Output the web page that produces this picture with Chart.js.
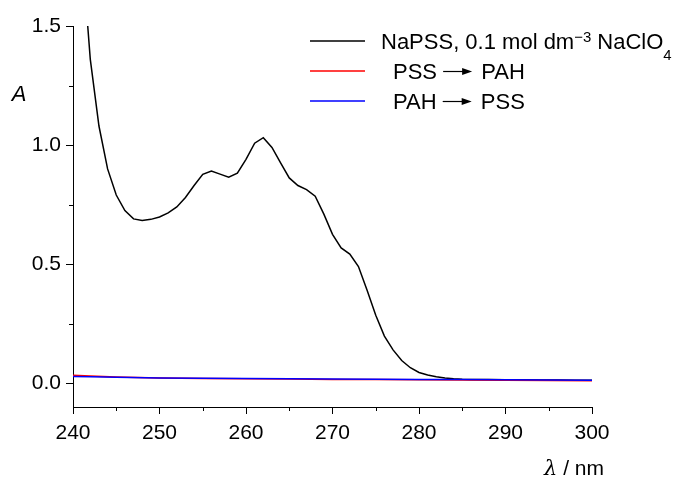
<!DOCTYPE html>
<html>
<head>
<meta charset="utf-8">
<script src="https://cdn.jsdelivr.net/npm/chart.js@4.4.1/dist/chart.umd.min.js"></script>
<style>
  html, body { margin: 0; padding: 0; background: #fff; }
  #wrap { width: 685px; height: 480px; position: relative; }
</style>
</head>
<body>
<div id="wrap"><canvas id="c"></canvas></div>
<script>
// ---- data ----
const wavelengthNaPSS = [241,242,243,244,245,246,247,248,249,250,251,252,253,254,255,256,257,258,259,260,
  261,262,263,264,265,266,267,268,269,270,271,272,273,274,275,276,277,278,279,280,
  281,282,283,284,285,286,288,290,292,294,296,298,300];
const absNaPSS = [1.83,1.36,1.08,0.90,0.79,0.725,0.69,0.683,0.688,0.698,0.715,0.74,0.78,0.83,0.877,0.891,0.878,0.865,0.882,0.94,
  1.008,1.031,0.99,0.925,0.862,0.83,0.813,0.785,0.71,0.625,0.568,0.542,0.49,0.39,0.285,0.198,0.14,0.095,0.065,0.045,
  0.034,0.027,0.022,0.019,0.017,0.016,0.015,0.014,0.014,0.013,0.013,0.012,0.012];
const wavelengthFilm = [240,242,245,250,255,260,265,270,275,280,285,290,295,300];
const absPSSPAH = [0.033,0.030,0.026,0.022,0.020,0.019,0.018,0.016,0.015,0.014,0.013,0.012,0.011,0.010];
const absPAHPSS = [0.028,0.027,0.025,0.022,0.021,0.020,0.019,0.018,0.017,0.016,0.015,0.014,0.013,0.012];
const xTicks = [240,250,260,270,280,290,300];
const xMinorTicks = [245,255,265,275,285,295];
const yTicks = [0.0,0.5,1.0,1.5];
const yMinorTicks = [0.25,0.75,1.25];
const seriesLabels = ['NaPSS, 0.1 mol dm^{\u22123} NaClO_{4}', 'PSS \u2192 PAH', 'PAH \u2192 PSS'];
const seriesColors = ['#000000', '#ff0000', '#0000ff'];

const FONT = "'Liberation Sans', Arial, sans-serif";
const toPts = (xs, ys) => xs.map((x, i) => ({x: x, y: ys[i]}));

// rich text: ^{..} superscript, _{..} subscript, \u2192 drawn as long arrow
function drawRich(ctx, text, x, y, size) {
  const re = /(\^\{[^}]*\}|_\{[^}]*\}|\u2192)/;
  const parts = text.split(re).filter(s => s.length);
  let cx = x;
  ctx.textBaseline = 'alphabetic';
  ctx.textAlign = 'left';
  for (const p of parts) {
    if (p === '\u2192') {
      const ay = Math.round(y - size * 0.36) + 0.5;
      const len = 29;
      ctx.save();
      ctx.strokeStyle = '#000'; ctx.lineWidth = 1.2;
      ctx.beginPath(); ctx.moveTo(cx, ay); ctx.lineTo(cx + len - 8, ay); ctx.stroke();
      ctx.beginPath(); ctx.moveTo(cx + len, ay); ctx.lineTo(cx + len - 10, ay - 3.5); ctx.lineTo(cx + len - 10, ay + 3.5); ctx.closePath();
      ctx.fillStyle = '#000'; ctx.fill();
      ctx.restore();
      cx += len + 3;
      continue;
    }
    let s = p, fs = size, dy = 0;
    if (p.startsWith('^{')) { s = p.slice(2, -1); fs = size * 0.68; dy = -size * 0.3; }
    else if (p.startsWith('_{')) { s = p.slice(2, -1); fs = size * 0.68; dy = size * 0.52; }
    ctx.font = fs + 'px ' + FONT;
    ctx.fillText(s, cx, y + dy);
    cx += ctx.measureText(s).width;
  }
}

const extras = {
  id: 'extras',
  afterDraw(chart) {
    const ctx = chart.ctx;
    const xs = chart.scales.x, ys = chart.scales.y;
    const ca = chart.chartArea;
    ctx.save();
    ctx.strokeStyle = '#000';
    ctx.lineWidth = 1;
    // minor ticks
    ctx.beginPath();
    xMinorTicks.forEach(v => {
      const px = Math.round(xs.getPixelForValue(v)) + 0.5;
      ctx.moveTo(px, ca.bottom); ctx.lineTo(px, ca.bottom + 4);
    });
    yMinorTicks.forEach(v => {
      const py = Math.round(ys.getPixelForValue(v)) + 0.5;
      ctx.moveTo(ca.left, py); ctx.lineTo(ca.left - 4, py);
    });
    ctx.stroke();
    // axis titles
    ctx.fillStyle = '#000';
    ctx.font = 'italic 22px ' + FONT;
    ctx.textAlign = 'center';
    ctx.textBaseline = 'middle';
    ctx.fillText('A', 19, 95);
    ctx.textAlign = 'right';
    ctx.textBaseline = 'alphabetic';
    ctx.font = '21px ' + FONT;
    const rest = ' / nm';
    const rw = ctx.measureText(rest).width;
    ctx.fillText(rest, 604, 475);
    ctx.font = "italic 21px 'DejaVu Serif', serif";
    ctx.fillText('\u03bb', 604 - rw, 475);
    // legend
    const rows = [41, 71, 101];
    const textX = [381, 393, 393];
    chart.data.datasets.forEach((ds, i) => {
      ctx.strokeStyle = ds.borderColor;
      ctx.lineWidth = 1.5;
      ctx.beginPath();
      ctx.moveTo(310, rows[i]); ctx.lineTo(365, rows[i]);
      ctx.stroke();
      ctx.fillStyle = '#000';
      drawRich(ctx, ds.label, textX[i], rows[i] + 8, 22);
    });
    ctx.restore();
  }
};

new Chart(document.getElementById('c'), {
  type: 'line',
  data: {
    datasets: [
      { label: seriesLabels[0], data: toPts(wavelengthNaPSS, absNaPSS), borderColor: seriesColors[0], borderWidth: 1.5, pointRadius: 0, tension: 0, order: 3, clip: 0 },
      { label: seriesLabels[1], data: toPts(wavelengthFilm, absPSSPAH), borderColor: seriesColors[1], borderWidth: 1.5, pointRadius: 0, tension: 0, order: 2, clip: 0 },
      { label: seriesLabels[2], data: toPts(wavelengthFilm, absPAHPSS), borderColor: seriesColors[2], borderWidth: 1.5, pointRadius: 0, tension: 0, order: 1, clip: 0 }
    ]
  },
  options: {
    responsive: true,
    maintainAspectRatio: false,
    animation: false,
    events: [],
    layout: { padding: { left: 0, top: 26, right: 93, bottom: 0 } },
    plugins: { legend: { display: false }, tooltip: { enabled: false } },
    scales: {
      x: {
        type: 'linear', min: 240, max: 300,
        afterBuildTicks: s => { s.ticks = xTicks.map(v => ({value: v})); },
        afterFit: s => { s.height = 73; },
        grid: { display: true, drawOnChartArea: false, drawTicks: true, tickLength: 7, color: '#000', tickColor: '#000' },
        border: { display: true, color: '#000', width: 1 },
        ticks: { color: '#000', font: { family: FONT, size: 21 }, padding: 7, maxRotation: 0, autoSkip: false }
      },
      y: {
        type: 'linear', min: -0.1, max: 1.5,
        afterBuildTicks: s => { s.ticks = yTicks.map(v => ({value: v})); },
        afterFit: s => { s.width = 73; },
        grid: { display: true, drawOnChartArea: false, drawTicks: true, tickLength: 7, color: '#000', tickColor: '#000' },
        border: { display: true, color: '#000', width: 1 },
        ticks: { color: '#000', font: { family: FONT, size: 21 }, padding: 5, callback: v => v.toFixed(1) }
      }
    }
  },
  plugins: [extras]
});
</script>
</body>
</html>
